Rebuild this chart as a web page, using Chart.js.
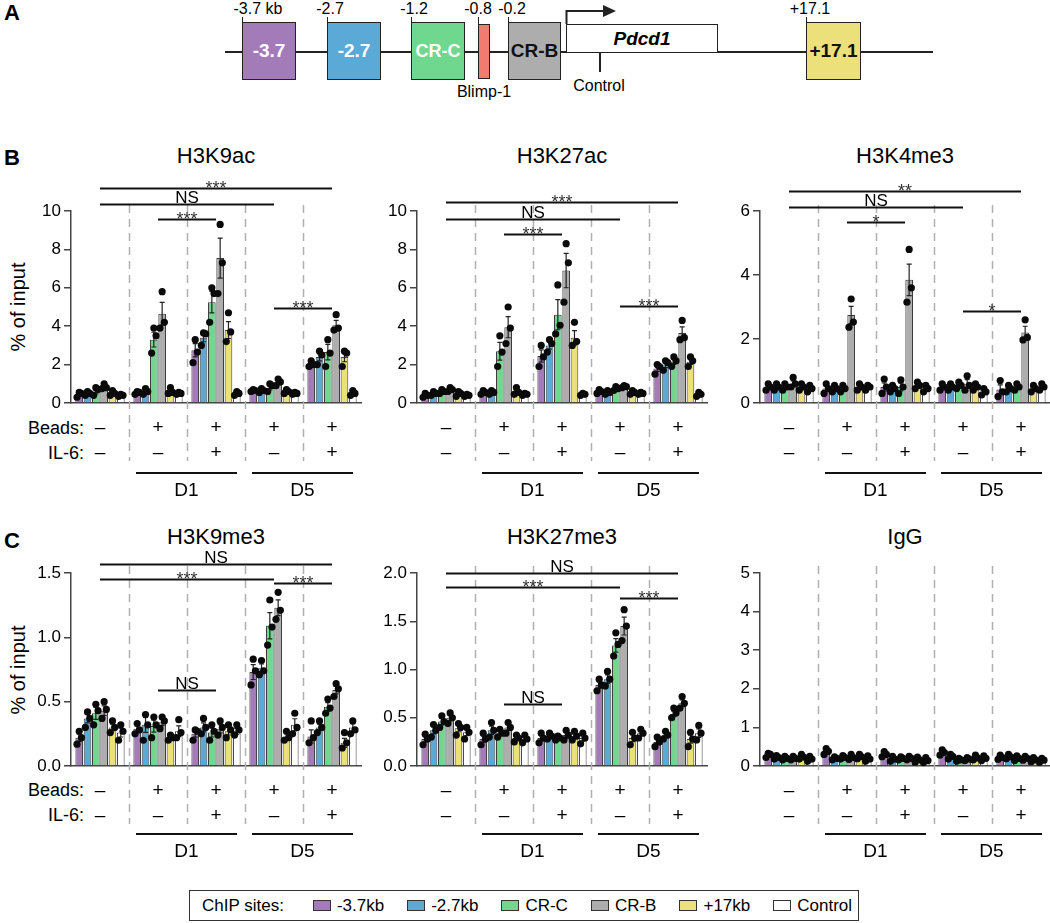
<!DOCTYPE html>
<html><head><meta charset="utf-8">
<script src="https://cdn.jsdelivr.net/npm/chart.js@4.4.0/dist/chart.umd.min.js"></script>
<style>
html,body{margin:0;padding:0;background:#fff;}
body{width:1050px;height:923px;position:relative;overflow:hidden;font-family:"Liberation Sans",Arial,Helvetica,sans-serif;color:#000;}
.abs{position:absolute;}
.panel{font-weight:bold;font-size:22px;}
.title{font-size:22px;transform:translate(-50%,-50%);white-space:nowrap;}
.ylab{font-size:20px;transform:translate(-50%,-50%) rotate(-90deg);white-space:nowrap;}
.rowlab{font-size:18px;transform:translate(-100%,-50%);white-space:nowrap;}
.box{position:absolute;border:1.5px solid #222;box-sizing:border-box;display:flex;align-items:center;justify-content:center;font-weight:bold;font-size:19px;}
.pos{position:absolute;font-size:16px;transform:translateX(-50%);white-space:nowrap;}
.tk{position:absolute;width:1px;background:#222;}
canvas{position:absolute;}
#legend{position:absolute;left:189px;top:890px;width:670px;height:31px;border:1.5px solid #333;box-sizing:border-box;display:flex;align-items:center;padding-left:12px;font-size:17px;gap:23px;}
#legend .it{display:flex;align-items:center;}
#legend .sw{width:18px;height:11px;border:1px solid #333;margin-right:6px;box-sizing:border-box;}
</style></head><body>

<!-- Panel A -->
<div class="abs panel" style="left:4px;top:0px">A</div>
<div class="abs" style="left:225px;top:51px;width:708px;height:2px;background:#222"></div>
<div class="pos" style="left:258px;top:0px">-3.7 kb</div>
<div class="pos" style="left:330px;top:0px">-2.7</div>
<div class="pos" style="left:414px;top:0px">-1.2</div>
<div class="pos" style="left:478px;top:0px">-0.8</div>
<div class="pos" style="left:512px;top:0px">-0.2</div>
<div class="pos" style="left:810px;top:0px">+17.1</div>
<div class="tk" style="left:242px;top:17px;height:6px"></div>
<div class="tk" style="left:327px;top:17px;height:6px"></div>
<div class="tk" style="left:411px;top:17px;height:6px"></div>
<div class="tk" style="left:478px;top:17px;height:8px"></div>
<div class="tk" style="left:508px;top:17px;height:6px"></div>
<div class="tk" style="left:806px;top:17px;height:6px"></div>
<div class="box" style="left:242px;top:22px;width:54px;height:58px;background:#a37bb9;color:#fff">-3.7</div>
<div class="box" style="left:327px;top:22px;width:54px;height:58px;background:#5ba9d6;color:#fff">-2.7</div>
<div class="box" style="left:411px;top:22px;width:54px;height:58px;background:#6fd88e;color:#fff;font-size:18px">CR-C</div>
<div class="box" style="left:478px;top:24px;width:12px;height:55px;background:#f07b6e"></div>
<div class="box" style="left:508px;top:22px;width:53px;height:58px;background:#adadad;color:#111">CR-B</div>
<div class="box" style="left:566px;top:24px;width:152px;height:29px;background:#fff;font-style:italic;font-size:19px">Pdcd1</div>
<div class="box" style="left:806px;top:22px;width:55px;height:58px;background:#ebe07a;color:#111">+17.1</div>
<svg class="abs" style="left:0;top:0" width="1050" height="30">
  <polyline points="566.5,24 566.5,11 604,11" fill="none" stroke="#222" stroke-width="2"/>
  <polygon points="603,5 616,11 603,17" fill="#222"/>
</svg>
<div class="tk" style="left:599px;top:52px;height:20px;width:1.5px"></div>
<div class="pos" style="left:599px;top:77px;font-size:16px">Control</div>
<div class="pos" style="left:484px;top:83px;font-size:16px">Blimp-1</div>

<!-- Panel labels / titles -->
<div class="abs panel" style="left:4px;top:145px">B</div>
<div class="abs panel" style="left:4px;top:528px">C</div>
<div class="abs title" style="left:216px;top:156px">H3K9ac</div>
<div class="abs title" style="left:562px;top:156px">H3K27ac</div>
<div class="abs title" style="left:905px;top:156px">H3K4me3</div>
<div class="abs title" style="left:216px;top:537px">H3K9me3</div>
<div class="abs title" style="left:562px;top:537px">H3K27me3</div>
<div class="abs title" style="left:905px;top:537px">IgG</div>
<div class="abs ylab" style="left:18px;top:307px">% of input</div>
<div class="abs ylab" style="left:18px;top:670px">% of input</div>
<div class="abs rowlab" style="left:84px;top:428px">Beads:</div>
<div class="abs rowlab" style="left:84px;top:453px">IL-6:</div>
<div class="abs rowlab" style="left:84px;top:790px">Beads:</div>
<div class="abs rowlab" style="left:84px;top:815px">IL-6:</div>

<div id="legend"><span style="margin-right:6px">ChIP sites:</span></div>

<script>
// ---------------- DATA ----------------
const beadsRow = ['–','+','+','+','+'];
const il6Row   = ['–','–','+','–','+'];
const dayLabels = ['D1','D5'];
const siteNames = ['-3.7kb','-2.7kb','CR-C','CR-B','+17kb','Control'];

// means: [group][site]  (sites: -3.7kb, -2.7kb, CR-C, CR-B, +17kb, Control)
const h3k9acMean = [
  [0.45,0.5,0.6,0.85,0.5,0.4],
  [0.55,0.6,3.3,4.65,0.6,0.5],
  [2.75,3.4,5.25,7.55,3.8,0.5],
  [0.65,0.65,0.8,1.05,0.6,0.5],
  [2.0,2.4,2.65,4.05,2.4,0.5]];
const h3k9acDots = [
  [[0.3,0.5,0.55],[0.4,0.5,0.6],[0.4,0.7,0.8],[0.75,0.8,1.0],[0.4,0.5,0.65],[0.35,0.4,0.45]],
  [[0.45,0.55,0.6],[0.45,0.6,0.75],[2.6,3.5,3.9],[3.9,4.2,5.8],[0.5,0.55,0.8],[0.45,0.5,0.55]],
  [[2.1,2.65,3.3],[3.0,3.6,3.65],[4.2,5.7,6.0],[5.7,7.3,9.3],[3.2,3.7,4.7],[0.4,0.5,0.6]],
  [[0.6,0.65,0.7],[0.55,0.65,0.75],[0.6,0.9,1.0],[0.9,1.1,1.25],[0.5,0.6,0.7],[0.45,0.5,0.55]],
  [[1.9,2.0,2.2],[2.0,2.5,2.7],[1.9,2.6,3.3],[3.8,3.9,4.6],[1.9,2.6,2.7],[0.4,0.5,0.65]]];
const h3k9acTicks = [0,2,4,6,8,10];

const h3k27acMean = [
  [0.4,0.5,0.6,0.7,0.5,0.4],
  [0.55,0.55,2.7,3.95,0.6,0.45],
  [2.45,3.0,4.6,6.9,3.4,0.45],
  [0.6,0.55,0.75,0.85,0.55,0.5],
  [1.8,2.0,2.15,3.65,2.15,0.45]];
const h3k27acDots = [
  [[0.3,0.4,0.5],[0.4,0.5,0.6],[0.5,0.6,0.7],[0.6,0.7,0.8],[0.35,0.5,0.6],[0.35,0.4,0.45]],
  [[0.45,0.55,0.65],[0.45,0.55,0.65],[1.9,2.65,3.5],[3.1,3.9,5.0],[0.45,0.55,0.8],[0.4,0.45,0.5]],
  [[1.9,2.4,3.0],[2.65,3.1,3.3],[3.6,4.05,6.15],[5.25,7.3,8.3],[3.0,3.2,4.2],[0.4,0.45,0.5]],
  [[0.5,0.6,0.7],[0.45,0.55,0.65],[0.65,0.75,0.85],[0.8,0.85,0.9],[0.45,0.55,0.65],[0.45,0.5,0.55]],
  [[1.5,1.9,2.0],[1.7,2.1,2.2],[1.9,2.2,2.4],[3.3,3.4,4.3],[1.9,2.2,2.4],[0.35,0.45,0.55]]];
const h3k27acTicks = [0,2,4,6,8,10];

const h3k4me3Mean = [
  [0.5,0.5,0.5,0.6,0.5,0.45],
  [0.45,0.45,0.45,2.75,0.5,0.5],
  [0.5,0.45,0.5,3.85,0.55,0.45],
  [0.5,0.5,0.55,0.6,0.5,0.35],
  [0.42,0.45,0.5,2.2,0.45,0.5]];
const h3k4me3Dots = [
  [[0.4,0.5,0.6],[0.4,0.5,0.6],[0.4,0.5,0.6],[0.5,0.6,0.8],[0.4,0.5,0.6],[0.35,0.45,0.55]],
  [[0.3,0.45,0.6],[0.35,0.45,0.55],[0.35,0.45,0.55],[2.37,2.53,3.25],[0.4,0.5,0.6],[0.4,0.5,0.55]],
  [[0.3,0.5,0.75],[0.35,0.45,0.55],[0.3,0.5,0.72],[3.15,3.6,4.8],[0.45,0.55,0.65],[0.35,0.45,0.55]],
  [[0.4,0.5,0.6],[0.4,0.5,0.6],[0.45,0.55,0.65],[0.4,0.55,0.85],[0.4,0.5,0.6],[0.25,0.35,0.45]],
  [[0.2,0.35,0.7],[0.35,0.45,0.55],[0.4,0.5,0.6],[1.97,2.05,2.6],[0.35,0.45,0.55],[0.4,0.5,0.6]]];
const h3k4me3Ticks = [0,2,4,6];

const h3k9me3Mean = [
  [0.22,0.37,0.41,0.43,0.30,0.26],
  [0.29,0.32,0.31,0.34,0.22,0.27],
  [0.25,0.30,0.26,0.29,0.27,0.27],
  [0.73,0.76,1.09,1.23,0.23,0.32],
  [0.23,0.30,0.46,0.59,0.18,0.30]];
const h3k9me3Dots = [
  [[0.17,0.22,0.27],[0.3,0.37,0.42],[0.32,0.43,0.48],[0.37,0.44,0.5],[0.26,0.3,0.35],[0.2,0.27,0.32]],
  [[0.25,0.28,0.33],[0.2,0.32,0.4],[0.22,0.32,0.38],[0.29,0.35,0.38],[0.2,0.22,0.24],[0.22,0.26,0.36]],
  [[0.2,0.27,0.28],[0.25,0.3,0.37],[0.2,0.27,0.32],[0.24,0.3,0.35],[0.22,0.28,0.32],[0.24,0.28,0.32]],
  [[0.63,0.74,0.83],[0.71,0.74,0.82],[0.94,1.08,1.29],[1.14,1.21,1.35],[0.2,0.22,0.27],[0.25,0.3,0.41]],
  [[0.18,0.22,0.35],[0.26,0.3,0.35],[0.41,0.45,0.52],[0.54,0.6,0.64],[0.14,0.18,0.26],[0.25,0.28,0.35]]];
const h3k9me3Ticks = [0,0.5,1.0,1.5];

const h3k27me3Mean = [
  [0.28,0.37,0.46,0.5,0.39,0.35],
  [0.28,0.37,0.34,0.40,0.29,0.28],
  [0.29,0.31,0.29,0.32,0.31,0.29],
  [0.84,0.90,1.25,1.45,0.29,0.34],
  [0.25,0.32,0.54,0.65,0.28,0.34]];
const h3k27me3Dots = [
  [[0.22,0.28,0.33],[0.3,0.37,0.43],[0.4,0.46,0.52],[0.44,0.5,0.55],[0.32,0.4,0.44],[0.28,0.35,0.4]],
  [[0.22,0.28,0.34],[0.3,0.37,0.45],[0.3,0.34,0.38],[0.34,0.4,0.45],[0.25,0.29,0.32],[0.24,0.28,0.32]],
  [[0.24,0.29,0.34],[0.28,0.31,0.34],[0.27,0.29,0.31],[0.27,0.32,0.37],[0.27,0.31,0.36],[0.23,0.29,0.34]],
  [[0.78,0.84,0.9],[0.83,0.9,0.98],[1.14,1.26,1.38],[1.3,1.45,1.62],[0.22,0.29,0.35],[0.29,0.34,0.38]],
  [[0.2,0.25,0.3],[0.28,0.32,0.36],[0.5,0.55,0.6],[0.6,0.65,0.72],[0.2,0.28,0.35],[0.27,0.34,0.42]]];
const h3k27me3Ticks = [0,0.5,1.0,1.5,2.0];

const iggMean = [
  [0.28,0.22,0.2,0.2,0.23,0.18],
  [0.38,0.2,0.22,0.22,0.24,0.18],
  [0.3,0.18,0.2,0.2,0.16,0.14],
  [0.35,0.25,0.16,0.18,0.21,0.2],
  [0.22,0.24,0.2,0.2,0.16,0.15]];
const iggDots = [
  [[0.22,0.3,0.33],[0.18,0.22,0.27],[0.16,0.2,0.25],[0.16,0.2,0.25],[0.18,0.23,0.3],[0.12,0.18,0.25]],
  [[0.3,0.38,0.45],[0.16,0.2,0.24],[0.18,0.22,0.27],[0.17,0.22,0.3],[0.19,0.24,0.3],[0.12,0.18,0.26]],
  [[0.24,0.3,0.37],[0.12,0.18,0.25],[0.16,0.2,0.24],[0.16,0.2,0.25],[0.1,0.16,0.23],[0.09,0.14,0.22]],
  [[0.28,0.35,0.42],[0.18,0.25,0.3],[0.12,0.16,0.2],[0.14,0.18,0.22],[0.16,0.21,0.28],[0.14,0.2,0.26]],
  [[0.17,0.22,0.28],[0.19,0.24,0.3],[0.14,0.2,0.26],[0.15,0.2,0.25],[0.11,0.16,0.22],[0.1,0.15,0.2]]];
const iggTicks = [0,1,2,3,4,5];

// significance comparisons: [fromGroup, toGroup, label]
const h3k9acSig   = [[0,4,'***'],[0,3,'NS'],[1,2,'***'],[3,4,'***']];
const h3k27acSig  = [[0,4,'***'],[0,3,'NS'],[1,2,'***'],[3,4,'***']];
const h3k4me3Sig  = [[0,4,'**'],[0,3,'NS'],[1,2,'*'],[3,4,'*']];
const h3k9me3Sig  = [[0,4,'NS'],[0,3,'***'],[3,4,'***'],[1,2,'NS']];
const h3k27me3Sig = [[0,4,'NS'],[0,3,'***'],[3,4,'***'],[1,2,'NS']];

// ---------------- STYLE / LAYOUT ----------------
const siteColors = ['#a37bb9','#5ba9d6','#6fd88e','#adadad','#ebe07a','#ffffff'];
const FONT = '"Liberation Sans", Arial, Helvetica, sans-serif';
Chart.defaults.font.family = FONT;
Chart.defaults.color = '#000';

// legend
const leg = document.getElementById('legend');
siteNames.forEach((n,i)=>{
  const it = document.createElement('span'); it.className='it';
  const sw = document.createElement('span'); sw.className='sw'; sw.style.background=siteColors[i];
  it.appendChild(sw); it.appendChild(document.createTextNode(n)); leg.appendChild(it);
});

const PADT = 85, XH = 100, YW = 55, PW = 290;

function makeChart(o){
  const canvas = document.createElement('canvas');
  const W = YW + PW + 8, H = PADT + o.plotH + XH;
  canvas.width = W; canvas.height = H;
  canvas.style.left = (o.axisX - YW) + 'px';
  canvas.style.top = (o.plotTop - PADT) + 'px';
  canvas.style.width = W + 'px'; canvas.style.height = H + 'px';
  document.body.appendChild(canvas);
  const dec = o.ticks.some(v => v % 1 !== 0);
  const yMax = o.ticks[o.ticks.length-1];

  const extras = {
    id:'extras',
    beforeDatasetsDraw(chart){
      const {ctx, chartArea:a, scales:{x}} = chart;
      const step = x.getPixelForValue(1) - x.getPixelForValue(0);
      ctx.save();
      ctx.strokeStyle = '#b0b0b0'; ctx.lineWidth = 1.5; ctx.setLineDash([8,6]);
      for (let i=0;i<4;i++){
        const px = Math.round(x.getPixelForValue(i) + step/2) + 0.5;
        ctx.beginPath(); ctx.moveTo(px, a.top - o.dashTop); ctx.lineTo(px, a.bottom + 58); ctx.stroke();
      }
      ctx.restore();
    },
    afterDatasetsDraw(chart){
      const {ctx, scales:{y}} = chart;
      const jit = [-2.2, 2.2, 0];
      chart.data.datasets.forEach((ds, s) => {
        const meta = chart.getDatasetMeta(s);
        meta.data.forEach((bar, g) => {
          const pts = o.dots[g][s];
          const mean = o.mean[g][s];
          const m = pts.reduce((a,b)=>a+b,0)/pts.length;
          const sd = Math.sqrt(pts.reduce((a,b)=>a+(b-m)*(b-m),0)/(pts.length-1));
          const sem = sd/Math.sqrt(pts.length);
          const cx = bar.x;
          const yt = y.getPixelForValue(mean + sem), yb = y.getPixelForValue(Math.max(0, mean - sem));
          ctx.save();
          ctx.strokeStyle = '#222'; ctx.lineWidth = 1.2;
          ctx.beginPath();
          ctx.moveTo(cx, yt); ctx.lineTo(cx, yb);
          ctx.moveTo(cx-2.5, yt); ctx.lineTo(cx+2.5, yt);
          ctx.moveTo(cx-2.5, yb); ctx.lineTo(cx+2.5, yb);
          ctx.stroke();
          ctx.fillStyle = '#0a0a0a';
          pts.forEach((v,k) => {
            ctx.beginPath(); ctx.arc(cx + jit[k], y.getPixelForValue(v), 3.6, 0, Math.PI*2); ctx.fill();
          });
          ctx.restore();
        });
      });
    },
    afterDraw(chart){
      const {ctx, chartArea:a, scales:{x,y}} = chart;
      const step = x.getPixelForValue(1) - x.getPixelForValue(0);
      ctx.save();
      // significance bars
      (o.sig || []).forEach((sg, k) => {
        const [g1, g2, lab] = sg;
        const lvl = o.sigLevels[k];
        const x1 = x.getPixelForValue(g1), x2 = x.getPixelForValue(g2);
        const py = Math.round(y.getPixelForValue(lvl)) + 0.5;
        ctx.strokeStyle = '#111'; ctx.lineWidth = 1.8;
        ctx.beginPath(); ctx.moveTo(x1, py); ctx.lineTo(x2, py); ctx.stroke();
        ctx.textAlign = 'center'; ctx.textBaseline = 'alphabetic';
        if (lab === 'NS') {
          ctx.fillStyle = '#000'; ctx.font = '17px ' + FONT;
          ctx.fillText(lab, (x1+x2)/2, py - 2);
        } else {
          ctx.fillStyle = '#333'; ctx.font = '18px ' + FONT;
          ctx.fillText(lab, (x1+x2)/2, py + 5);
        }
      });
      // day lines
      dayLabels.forEach((d, k) => {
        const gA = 1 + 2*k, gB = 2 + 2*k;
        const xa = x.getPixelForValue(gA) - step/2 + 7;
        const xb = x.getPixelForValue(gB) + step/2 - 8;
        const ly = a.bottom + o.dayLine;
        ctx.strokeStyle = '#111'; ctx.lineWidth = 2;
        ctx.beginPath(); ctx.moveTo(xa, ly); ctx.lineTo(xb, ly); ctx.stroke();
        ctx.fillStyle = '#000'; ctx.font = '19px ' + FONT;
        ctx.textAlign = 'center'; ctx.textBaseline = 'middle';
        ctx.fillText(d, (xa+xb)/2, ly + 18);
      });
      ctx.restore();
    }
  };

  const datasets = siteNames.map((name, s) => ({
    label: name,
    data: o.mean.map(g => g[s]),
    backgroundColor: siteColors[s],
    borderColor: '#3a3a3a', borderWidth: 1,
    categoryPercentage: 0.86, barPercentage: 0.92
  }));

  new Chart(canvas, {
    type: 'bar',
    data: { labels: beadsRow.map((b,i) => [b, il6Row[i]]), datasets },
    options: {
      responsive: false, animation: false, devicePixelRatio: 1,
      layout: { padding: { top: PADT, left: 0, right: 8, bottom: 0 } },
      plugins: { legend: { display: false }, tooltip: { enabled: false } },
      scales: {
        x: {
          grid: { display: false, drawTicks: false },
          border: { display: true, color: '#444', width: 1.5 },
          ticks: { color: '#000', font: { size: 19, lineHeight: '25px' }, padding: 12, maxRotation: 0, autoSkip: false },
          afterFit(s){ s.height = XH; }
        },
        y: {
          min: 0, max: yMax,
          afterBuildTicks(s){ s.ticks = o.ticks.map(v => ({ value: v })); },
          ticks: { color: '#000', font: { size: 17 }, padding: 3,
                   callback: v => dec ? Number(v).toFixed(1) : String(v) },
          grid: { display: true, drawOnChartArea: false, drawTicks: true, tickLength: 7, color: '#444', lineWidth: 1.5 },
          border: { display: true, color: '#444', width: 1.5 },
          afterFit(s){ s.width = YW; }
        }
      }
    },
    plugins: [extras]
  });
}

const rowB = { plotTop: 211, plotH: 192, dashTop: 6, dayLine: 70 };
const rowC = { plotTop: 573, plotH: 193, dashTop: 7, dayLine: 68 };

makeChart(Object.assign({ axisX: 71, mean: h3k9acMean, dots: h3k9acDots, ticks: h3k9acTicks,
  sig: h3k9acSig, sigLevels: [11.2, 10.36, 9.58, 4.95] }, rowB));
makeChart(Object.assign({ axisX: 417, mean: h3k27acMean, dots: h3k27acDots, ticks: h3k27acTicks,
  sig: h3k27acSig, sigLevels: [10.47, 9.58, 8.8, 5.05] }, rowB));
makeChart(Object.assign({ axisX: 760, mean: h3k4me3Mean, dots: h3k4me3Dots, ticks: h3k4me3Ticks,
  sig: h3k4me3Sig, sigLevels: [6.63, 6.13, 5.66, 2.88] }, rowB));
makeChart(Object.assign({ axisX: 71, mean: h3k9me3Mean, dots: h3k9me3Dots, ticks: h3k9me3Ticks,
  sig: h3k9me3Sig, sigLevels: [1.57, 1.453, 1.422, 0.59] }, rowC));
makeChart(Object.assign({ axisX: 417, mean: h3k27me3Mean, dots: h3k27me3Dots, ticks: h3k27me3Ticks,
  sig: h3k27me3Sig, sigLevels: [2.0, 1.855, 1.741, 0.642] }, rowC));
makeChart(Object.assign({ axisX: 760, mean: iggMean, dots: iggDots, ticks: iggTicks,
  sig: [], sigLevels: [] }, rowC));
</script>
</body></html>
